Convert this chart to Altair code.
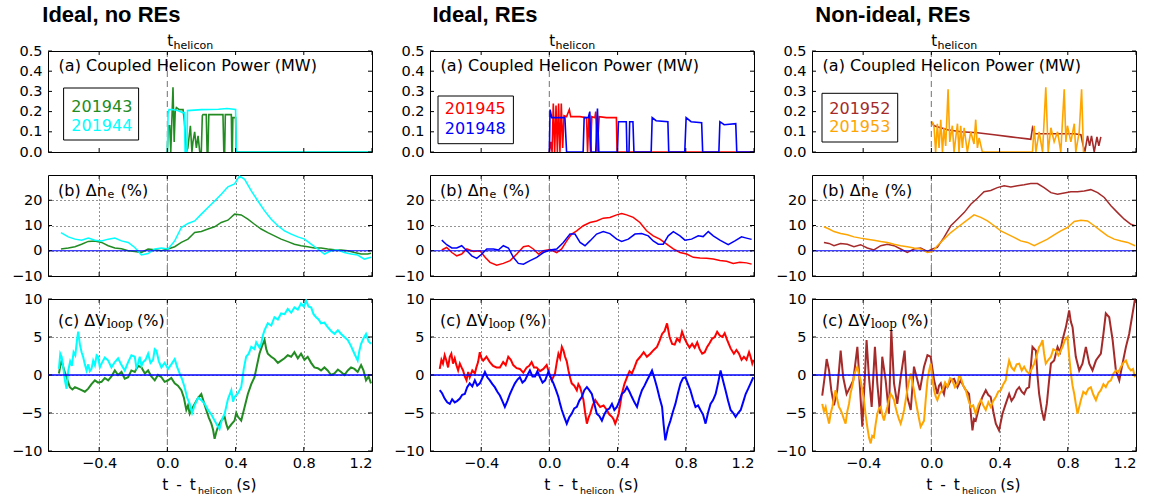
import altair as alt
import pandas as pd

# ------------------------------------------------------------------ data
COL_TITLES = ["Ideal, no REs", "Ideal, REs", "Non-ideal, REs"]
SHOTS = [["201943", "201944"], ["201945", "201948"], ["201952", "201953"]]
COLORS = [["#228B22", "#00FFFF"], ["#FF0000", "#0000FF"], ["#A52A2A", "#FFA500"]]

XTICKS = [-0.4, 0.0, 0.4, 0.8, 1.2]
YTICKS_P = [0.0, 0.1, 0.2, 0.3, 0.4, 0.5]
YTICKS_N = [-10, 0, 10, 20]
YTICKS_V = [-10, -5, 0, 5, 10]

# (a) coupled helicon power (MW)
P_201943 = [(0.0, 0.0), (0.005, 0.13), (0.014, 0.13), (0.020, 0.0), (0.026, 0.15), (0.033, 0.32),
            (0.040, 0.05), (0.046, 0.20), (0.053, 0.22), (0.070, 0.21), (0.092, 0.21), (0.100, 0.15),
            (0.111, 0.0), (0.120, 0.02), (0.135, 0.13), (0.144, 0.0), (0.150, 0.05), (0.160, 0.10),
            (0.170, 0.02), (0.180, 0.08), (0.190, 0.0), (0.199, 0.0), (0.205, 0.18), (0.209, 0.185),
            (0.228, 0.185), (0.233, 0.0), (0.238, 0.0), (0.243, 0.185), (0.248, 0.185), (0.326, 0.185),
            (0.331, 0.0), (0.336, 0.0), (0.340, 0.185), (0.345, 0.185), (0.375, 0.185), (0.378, 0.0),
            (0.381, 0.0), (0.384, 0.17), (0.400, 0.17), (0.404, 0.0), (0.41, 0.0), (1.2, 0.0)]
P_201944 = [(0.0, 0.0), (0.004, 0.19), (0.010, 0.21), (0.030, 0.21), (0.060, 0.205), (0.090, 0.195),
            (0.100, 0.195), (0.104, 0.0), (0.114, 0.0), (0.118, 0.205), (0.20, 0.21), (0.30, 0.212),
            (0.35, 0.215), (0.400, 0.21), (0.404, 0.0), (0.41, 0.0), (1.2, 0.0)]
P_201945 = [(0.0, 0.0), (0.008, 0.05), (0.016, 0.0), (0.023, 0.24), (0.031, 0.0), (0.039, 0.23),
            (0.047, 0.0), (0.054, 0.24), (0.062, 0.0), (0.070, 0.24), (0.078, 0.02), (0.086, 0.18),
            (0.101, 0.175), (0.117, 0.21), (0.125, 0.175), (0.179, 0.175), (0.218, 0.17), (0.224, 0.0),
            (0.232, 0.175), (0.241, 0.0), (0.249, 0.175), (0.267, 0.17), (0.272, 0.20), (0.280, 0.0),
            (0.292, 0.175), (0.335, 0.17), (0.393, 0.17), (0.397, 0.0), (1.2, 0.0)]
P_201948 = [(0.0, 0.0), (0.004, 0.21), (0.014, 0.17), (0.091, 0.17), (0.101, 0.0), (0.198, 0.0),
            (0.204, 0.17), (0.228, 0.17), (0.237, 0.20), (0.245, 0.0), (0.272, 0.0), (0.282, 0.215),
            (0.290, 0.0), (0.399, 0.0), (0.405, 0.15), (0.451, 0.15), (0.455, 0.0), (0.467, 0.0),
            (0.471, 0.15), (0.490, 0.15), (0.496, 0.0), (0.597, 0.0), (0.603, 0.17), (0.626, 0.155),
            (0.695, 0.15), (0.700, 0.0), (0.794, 0.0), (0.802, 0.17), (0.831, 0.15), (0.893, 0.145),
            (0.899, 0.0), (0.994, 0.0), (1.000, 0.15), (1.025, 0.135), (1.093, 0.14), (1.099, 0.0),
            (1.2, 0.0)]
P_201952 = [(0.0, 0.15), (0.016, 0.13), (0.094, 0.11), (0.172, 0.10), (0.270, 0.095), (0.368, 0.085),
            (0.466, 0.075), (0.564, 0.065), (0.583, 0.063), (0.593, 0.12), (0.607, 0.09), (0.681, 0.09),
            (0.759, 0.09), (0.838, 0.09), (0.877, 0.085), (0.888, 0.04), (0.900, 0.0), (0.916, 0.08),
            (0.928, 0.03), (0.939, 0.08), (0.955, 0.0), (0.971, 0.075), (0.982, 0.03), (0.994, 0.075)]
P_201953 = [(0.006, 0.15), (0.016, 0.12), (0.025, 0.0), (0.035, 0.14), (0.045, 0.02), (0.055, 0.16),
            (0.065, 0.0), (0.074, 0.12), (0.084, 0.03), (0.098, 0.31), (0.108, 0.05), (0.123, 0.13),
            (0.133, 0.0), (0.153, 0.14), (0.162, 0.0), (0.172, 0.13), (0.182, 0.02), (0.192, 0.12),
            (0.211, 0.0), (0.231, 0.10), (0.250, 0.04), (0.260, 0.16), (0.270, 0.02), (0.280, 0.07),
            (0.299, 0.0), (0.593, 0.0), (0.603, 0.13), (0.613, 0.0), (0.632, 0.10), (0.652, 0.0),
            (0.671, 0.32), (0.685, 0.0), (0.701, 0.12), (0.720, 0.05), (0.740, 0.10), (0.759, 0.0),
            (0.779, 0.31), (0.789, 0.05), (0.798, 0.13), (0.818, 0.05), (0.838, 0.14), (0.847, 0.0),
            (0.867, 0.10), (0.881, 0.31), (0.892, 0.0), (0.906, 0.0)]

# (b) density change (%)
N_201943 = [(-0.624, 0.7), (-0.581, 1.1), (-0.542, 1.6), (-0.503, 2.6), (-0.464, 3.7), (-0.425, 3.9),
            (-0.386, 3.3), (-0.347, 2.0), (-0.308, 1.1), (-0.269, 0.8), (-0.230, 0.0), (-0.191, -0.3),
            (-0.152, -0.7), (-0.113, 0.7), (-0.074, 0.4), (-0.035, 0.0), (0.004, 0.7), (0.043, 1.6),
            (0.082, 3.3), (0.121, 4.6), (0.160, 7.2), (0.199, 7.6), (0.238, 8.6), (0.277, 9.5),
            (0.316, 11.2), (0.355, 12.1), (0.394, 14.5), (0.433, 14.2), (0.472, 12.5), (0.511, 10.5),
            (0.550, 8.6), (0.589, 7.2), (0.628, 5.9), (0.667, 4.6), (0.706, 3.6), (0.745, 2.6),
            (0.784, 2.0), (0.823, 1.6), (0.862, 1.1), (0.901, 1.1), (0.940, 0.7), (0.980, 0.4),
            (1.019, 0.3), (1.058, 0.0), (1.097, -0.7), (1.136, -1.3), (1.175, -1.3), (1.194, -1.0)]
N_201944 = [(-0.624, 7.2), (-0.581, 5.5), (-0.542, 4.6), (-0.503, 4.2), (-0.464, 5.0), (-0.425, 4.2),
            (-0.386, 3.9), (-0.347, 4.6), (-0.308, 5.0), (-0.269, 3.9), (-0.230, 3.3), (-0.191, 1.3),
            (-0.152, -1.7), (-0.113, -1.1), (-0.074, 0.7), (-0.035, 1.1), (0.004, 0.7), (0.043, 3.9),
            (0.082, 9.2), (0.121, 10.8), (0.160, 11.8), (0.199, 14.5), (0.238, 17.1), (0.277, 19.7),
            (0.316, 22.4), (0.355, 25.3), (0.394, 26.5), (0.423, 29.6), (0.453, 28.3), (0.492, 23.7),
            (0.531, 19.7), (0.570, 15.8), (0.609, 12.5), (0.648, 9.9), (0.687, 7.9), (0.726, 6.6),
            (0.765, 5.5), (0.804, 4.6), (0.843, 2.6), (0.882, 0.7), (0.921, -1.3), (0.960, 0.0),
            (0.999, 0.3), (1.038, -0.7), (1.077, -1.3), (1.116, -1.7), (1.155, -3.3), (1.194, -2.6)]
N_201945 = [(-0.631, 0.3), (-0.602, 1.3), (-0.572, -0.7), (-0.543, -2.0), (-0.514, -1.3), (-0.484, 0.7),
            (-0.445, -0.3), (-0.406, 0.0), (-0.377, -2.6), (-0.348, -4.6), (-0.309, -5.7), (-0.270, -5.0),
            (-0.230, -3.9), (-0.191, -1.3), (-0.152, 1.6), (-0.123, 2.0), (-0.094, 0.7), (-0.064, -1.3),
            (-0.035, 0.0), (0.004, 0.5), (0.043, -0.7), (0.072, 0.7), (0.102, 3.9), (0.131, 6.6),
            (0.160, 7.9), (0.199, 9.9), (0.238, 11.2), (0.277, 11.8), (0.316, 12.9), (0.355, 13.2),
            (0.395, 14.2), (0.424, 14.7), (0.453, 14.2), (0.492, 13.2), (0.531, 11.2), (0.570, 7.9),
            (0.609, 5.9), (0.648, 4.6), (0.688, 2.6), (0.727, 0.7), (0.766, -0.7), (0.805, -1.3),
            (0.844, -2.6), (0.883, -2.9), (0.922, -3.0), (0.961, -3.3), (1.000, -3.9), (1.039, -4.2),
            (1.078, -5.0), (1.117, -4.6), (1.156, -4.8), (1.186, -5.3)]
N_201948 = [(-0.631, 4.2), (-0.602, 2.4), (-0.572, 1.1), (-0.543, 1.1), (-0.514, 2.0), (-0.484, 0.0),
            (-0.455, -2.0), (-0.426, -3.0), (-0.396, -1.3), (-0.367, 0.7), (-0.328, 0.7), (-0.299, 0.3),
            (-0.270, 2.0), (-0.240, 1.1), (-0.211, -2.6), (-0.182, -5.0), (-0.152, -5.3), (-0.113, -3.9),
            (-0.074, -2.6), (-0.035, -0.7), (0.004, 0.3), (0.043, 0.7), (0.082, 3.3), (0.121, 6.6),
            (0.150, 6.6), (0.180, 3.3), (0.209, 2.0), (0.238, 3.9), (0.277, 6.6), (0.316, 7.6),
            (0.355, 6.8), (0.395, 4.6), (0.424, 3.7), (0.463, 4.6), (0.502, 6.6), (0.541, 6.8),
            (0.580, 5.9), (0.609, 3.9), (0.639, 2.6), (0.668, 2.6), (0.697, 5.9), (0.727, 7.6),
            (0.766, 5.9), (0.795, 4.2), (0.834, 4.6), (0.873, 5.9), (0.902, 5.6), (0.932, 7.6),
            (0.961, 5.9), (1.000, 4.2), (1.049, 2.4), (1.088, 3.9), (1.127, 5.5), (1.156, 5.0),
            (1.186, 4.5)]
N_201952 = [(-0.630, 3.3), (-0.600, 2.9), (-0.571, 2.0), (-0.532, 2.9), (-0.493, 2.6), (-0.454, 1.6),
            (-0.415, 2.4), (-0.376, 1.1), (-0.337, 0.3), (-0.297, 2.0), (-0.258, 2.6), (-0.219, 2.0),
            (-0.180, 0.7), (-0.141, -0.7), (-0.102, 0.7), (-0.063, 1.1), (-0.023, -0.3), (0.006, 0.7),
            (0.035, 1.3), (0.074, 5.3), (0.114, 9.9), (0.153, 12.5), (0.192, 15.1), (0.231, 18.4),
            (0.270, 20.8), (0.309, 23.4), (0.348, 23.9), (0.387, 25.0), (0.427, 25.7), (0.466, 25.3),
            (0.505, 25.7), (0.544, 26.1), (0.583, 26.6), (0.622, 26.6), (0.661, 25.0), (0.701, 23.0),
            (0.740, 22.4), (0.779, 22.9), (0.818, 23.4), (0.857, 23.4), (0.896, 23.7), (0.935, 24.2),
            (0.975, 23.0), (1.014, 21.1), (1.053, 17.8), (1.092, 15.1), (1.131, 12.5), (1.170, 10.5),
            (1.194, 9.9)]
N_201953 = [(-0.630, 9.5), (-0.600, 8.6), (-0.571, 7.6), (-0.532, 6.8), (-0.493, 6.3), (-0.454, 5.5),
            (-0.415, 5.0), (-0.376, 4.6), (-0.337, 4.2), (-0.297, 3.7), (-0.258, 3.3), (-0.219, 2.6),
            (-0.180, 2.0), (-0.141, 1.6), (-0.102, 1.1), (-0.063, 0.7), (-0.023, -0.7), (0.006, -0.3),
            (0.035, 2.0), (0.074, 4.6), (0.114, 7.2), (0.153, 9.2), (0.192, 11.2), (0.231, 13.2),
            (0.250, 14.2), (0.290, 13.2), (0.329, 11.8), (0.368, 9.9), (0.407, 7.9), (0.446, 6.6),
            (0.485, 5.3), (0.524, 3.9), (0.564, 3.3), (0.603, 2.0), (0.642, 3.3), (0.681, 4.6),
            (0.720, 6.3), (0.759, 7.9), (0.798, 9.2), (0.838, 11.6), (0.877, 12.1), (0.916, 11.8),
            (0.955, 9.9), (0.994, 7.9), (1.033, 5.9), (1.072, 4.6), (1.112, 3.9), (1.151, 3.3),
            (1.194, 2.0)]

# (c) loop voltage change (%)
V_201943 = [(-0.636, 0.2), (-0.628, 1.2), (-0.620, 1.9), (-0.605, 0.6), (-0.591, -0.3), (-0.581, -1.0),
            (-0.572, -1.6), (-0.557, -1.9), (-0.542, -1.6), (-0.522, -1.8), (-0.503, -2.0), (-0.484, -2.2),
            (-0.464, -1.8), (-0.445, -1.2), (-0.425, -0.7), (-0.406, -1.0), (-0.386, -0.9), (-0.367, -0.4),
            (-0.347, -0.7), (-0.328, -0.2), (-0.308, 0.6), (-0.289, 0.0), (-0.269, 0.4), (-0.250, -0.5),
            (-0.230, -0.3), (-0.211, 0.6), (-0.191, 0.4), (-0.172, 1.2), (-0.152, 1.0), (-0.132, 0.2),
            (-0.113, 0.6), (-0.094, -0.2), (-0.074, -0.7), (-0.055, 0.0), (-0.035, -0.3), (-0.016, -0.9),
            (0.004, -0.7), (0.023, -0.4), (0.043, -1.1), (0.062, -1.4), (0.082, -2.0), (0.097, -3.0),
            (0.111, -4.6), (0.121, -4.0), (0.131, -5.1), (0.145, -4.4), (0.160, -3.8), (0.180, -3.0),
            (0.199, -2.5), (0.214, -3.6), (0.228, -4.6), (0.243, -5.6), (0.258, -6.4), (0.268, -7.2),
            (0.277, -8.4), (0.287, -7.5), (0.297, -6.8), (0.316, -6.0), (0.336, -5.5), (0.345, -6.4),
            (0.355, -7.1), (0.375, -6.5), (0.394, -6.0), (0.404, -5.0), (0.414, -5.5), (0.433, -6.0),
            (0.453, -4.2), (0.472, -2.5), (0.492, -1.2), (0.511, -0.3), (0.525, 1.2), (0.540, 2.8),
            (0.555, 3.8), (0.570, 4.6), (0.580, 3.4), (0.589, 2.8), (0.609, 2.4), (0.628, 2.1),
            (0.648, 1.6), (0.667, 1.9), (0.687, 2.2), (0.706, 2.6), (0.726, 2.4), (0.745, 3.0),
            (0.765, 2.2), (0.784, 2.8), (0.804, 2.0), (0.823, 2.4), (0.843, 1.6), (0.862, 1.0),
            (0.882, 0.9), (0.901, 0.6), (0.921, 1.0), (0.940, 0.6), (0.960, 0.0), (0.980, 0.2),
            (1.000, 0.7), (1.019, 0.4), (1.038, 0.0), (1.058, 0.6), (1.077, 1.0), (1.097, 0.8),
            (1.116, 0.4), (1.136, 1.3), (1.150, 0.6), (1.165, -0.7), (1.180, -0.2), (1.194, -1.1)]
V_201944 = [(-0.636, 0.8), (-0.628, 2.8), (-0.620, 2.4), (-0.610, 0.9), (-0.601, -0.7), (-0.591, -1.8),
            (-0.581, 0.6), (-0.570, 1.8), (-0.560, 1.2), (-0.550, 3.0), (-0.540, 2.6), (-0.530, 4.6),
            (-0.523, 5.7), (-0.513, 4.0), (-0.503, 3.0), (-0.494, 2.4), (-0.484, 1.4), (-0.474, 0.6),
            (-0.464, 1.4), (-0.455, 0.5), (-0.445, 0.8), (-0.435, 1.9), (-0.425, 1.3), (-0.415, 2.6),
            (-0.406, 2.4), (-0.396, 1.0), (-0.386, 1.5), (-0.367, 2.3), (-0.347, 1.9), (-0.328, 1.0),
            (-0.308, 1.7), (-0.289, 2.2), (-0.269, 1.3), (-0.250, 0.6), (-0.230, 1.7), (-0.211, 2.6),
            (-0.191, 2.4), (-0.182, 1.0), (-0.172, 1.5), (-0.162, 2.4), (-0.152, 1.2), (-0.142, 1.7),
            (-0.128, 2.0), (-0.113, 2.8), (-0.099, 1.6), (-0.084, 2.0), (-0.074, 3.4), (-0.064, 3.2),
            (-0.050, 1.8), (-0.035, 1.0), (-0.016, 1.6), (0.004, 0.8), (0.023, 1.4), (0.043, 2.1),
            (0.058, 1.0), (0.072, 0.2), (0.087, -0.6), (0.101, -1.6), (0.116, -3.0), (0.131, -3.8),
            (0.145, -5.0), (0.160, -4.0), (0.180, -3.0), (0.199, -3.3), (0.219, -3.8), (0.238, -4.6),
            (0.258, -5.2), (0.277, -6.0), (0.292, -6.6), (0.306, -7.1), (0.321, -5.8), (0.336, -5.1),
            (0.355, -3.2), (0.375, -2.0), (0.385, -3.5), (0.394, -2.9), (0.414, -2.4), (0.433, -1.6),
            (0.448, 0.8), (0.462, 2.4), (0.477, 2.8), (0.492, 3.7), (0.511, 3.4), (0.521, 4.3),
            (0.540, 3.6), (0.550, 4.1), (0.560, 5.2), (0.570, 5.9), (0.589, 6.8), (0.609, 6.5),
            (0.628, 7.6), (0.648, 7.3), (0.667, 8.1), (0.687, 8.0), (0.706, 8.7), (0.726, 8.2),
            (0.745, 8.9), (0.765, 8.6), (0.784, 9.4), (0.800, 9.0), (0.814, 9.8), (0.828, 9.0),
            (0.843, 8.9), (0.857, 8.0), (0.872, 7.6), (0.887, 7.3), (0.901, 6.8), (0.921, 6.9),
            (0.940, 6.3), (0.960, 5.8), (0.980, 5.4), (1.000, 5.9), (1.019, 5.4), (1.038, 5.0),
            (1.058, 4.6), (1.077, 3.8), (1.097, 2.8), (1.116, 1.9), (1.126, 3.2), (1.136, 4.1),
            (1.150, 4.8), (1.165, 5.4), (1.180, 4.4), (1.194, 4.1)]
V_201945 = [(-0.643, 0.8), (-0.633, 2.0), (-0.624, 1.5), (-0.614, 2.6), (-0.604, 1.9), (-0.594, 1.0),
            (-0.584, 2.4), (-0.575, 2.8), (-0.565, 1.5), (-0.555, 2.2), (-0.545, 1.3), (-0.535, 0.6),
            (-0.525, 1.5), (-0.515, 1.0), (-0.506, 0.6), (-0.496, -0.2), (-0.486, -0.7), (-0.476, 0.4),
            (-0.467, -0.3), (-0.452, 0.6), (-0.437, 0.2), (-0.428, 1.0), (-0.418, 1.7), (-0.408, 3.0),
            (-0.398, 2.2), (-0.388, 1.9), (-0.369, 2.4), (-0.349, 1.7), (-0.330, 1.2), (-0.310, 1.0),
            (-0.290, 1.0), (-0.271, 1.7), (-0.256, 1.3), (-0.241, 2.4), (-0.226, 2.0), (-0.212, 1.3),
            (-0.192, 0.9), (-0.173, 0.8), (-0.153, 0.3), (-0.133, 1.0), (-0.118, 1.2), (-0.104, 1.7),
            (-0.090, 1.0), (-0.075, 1.0), (-0.055, 0.5), (-0.035, 0.8), (-0.016, 1.3), (0.000, 0.2),
            (0.014, -0.7), (0.033, 0.2), (0.043, 1.6), (0.053, 2.8), (0.063, 2.2), (0.073, 3.7),
            (0.083, 3.2), (0.092, 2.4), (0.102, 1.8), (0.112, 0.6), (0.122, -0.4), (0.131, -1.1),
            (0.146, -1.4), (0.161, -2.0), (0.170, -1.2), (0.180, -1.6), (0.190, -2.4), (0.200, -3.3),
            (0.210, -5.0), (0.220, -6.4), (0.230, -5.6), (0.239, -5.1), (0.254, -4.0), (0.269, -3.3),
            (0.284, -3.8), (0.298, -4.2), (0.318, -4.0), (0.337, -4.6), (0.352, -5.2), (0.367, -5.5),
            (0.376, -5.8), (0.386, -6.4), (0.396, -5.8), (0.406, -5.1), (0.416, -3.8), (0.425, -2.5),
            (0.440, -1.2), (0.455, -0.3), (0.470, 0.5), (0.484, 0.2), (0.499, 1.0), (0.514, 1.9),
            (0.533, 2.4), (0.553, 3.0), (0.572, 2.4), (0.592, 2.8), (0.612, 3.3), (0.631, 3.7),
            (0.646, 4.5), (0.661, 5.4), (0.676, 5.8), (0.690, 6.8), (0.705, 5.0), (0.720, 4.1),
            (0.735, 4.0), (0.749, 4.8), (0.764, 4.4), (0.778, 5.7), (0.793, 4.8), (0.808, 4.1),
            (0.822, 3.6), (0.837, 4.1), (0.852, 3.6), (0.867, 4.3), (0.881, 3.4), (0.896, 2.8),
            (0.911, 3.0), (0.925, 3.7), (0.940, 4.2), (0.955, 4.8), (0.970, 5.0), (0.984, 5.7),
            (0.999, 5.2), (1.014, 5.0), (1.028, 5.5), (1.043, 4.6), (1.063, 3.5), (1.082, 2.8),
            (1.097, 3.3), (1.112, 2.8), (1.127, 2.0), (1.141, 2.4), (1.156, 2.0), (1.171, 3.0),
            (1.180, 2.4), (1.190, 1.5), (1.198, 2.0)]
V_201948 = [(-0.643, -2.0), (-0.629, -2.4), (-0.614, -3.1), (-0.599, -3.6), (-0.584, -3.8), (-0.570, -3.2),
            (-0.555, -3.6), (-0.540, -3.4), (-0.525, -3.1), (-0.511, -2.6), (-0.496, -2.5), (-0.482, -1.6),
            (-0.467, -1.1), (-0.452, -1.5), (-0.437, -0.7), (-0.423, -1.4), (-0.408, -1.1), (-0.393, -0.4),
            (-0.378, 0.4), (-0.364, -0.3), (-0.349, -0.7), (-0.334, -1.2), (-0.320, -1.6), (-0.305, -2.2),
            (-0.290, -2.7), (-0.276, -3.4), (-0.261, -4.2), (-0.246, -3.4), (-0.231, -2.5), (-0.217, -1.8),
            (-0.202, -1.1), (-0.187, -0.6), (-0.173, -0.3), (-0.158, -1.0), (-0.143, -0.7), (-0.128, 0.0),
            (-0.114, 0.6), (-0.099, -0.2), (-0.084, -0.2), (-0.070, 0.5), (-0.055, -0.3), (-0.040, -1.0),
            (-0.025, -0.7), (-0.006, 0.4), (0.009, -0.4), (0.024, -1.1), (0.039, -2.0), (0.053, -2.9),
            (0.063, -3.8), (0.073, -4.6), (0.087, -5.5), (0.102, -6.4), (0.116, -5.6), (0.131, -5.1),
            (0.146, -4.4), (0.161, -4.2), (0.175, -3.4), (0.190, -2.9), (0.205, -2.0), (0.220, -1.6),
            (0.234, -2.0), (0.249, -2.5), (0.264, -3.8), (0.278, -5.1), (0.293, -5.4), (0.308, -6.0),
            (0.322, -5.2), (0.337, -4.6), (0.352, -4.4), (0.367, -3.8), (0.381, -4.6), (0.396, -4.2),
            (0.411, -3.4), (0.425, -2.5), (0.440, -2.2), (0.455, -1.6), (0.470, -2.2), (0.484, -2.9),
            (0.499, -3.6), (0.514, -4.2), (0.528, -3.0), (0.543, -2.0), (0.558, -1.4), (0.573, -0.7),
            (0.587, -0.1), (0.602, 0.6), (0.617, -0.5), (0.631, -1.6), (0.646, -3.0), (0.661, -4.2),
            (0.670, -6.5), (0.680, -8.6), (0.695, -7.0), (0.710, -6.0), (0.725, -4.8), (0.739, -3.8),
            (0.754, -2.4), (0.769, -1.1), (0.784, -0.4), (0.798, -0.3), (0.813, -1.2), (0.827, -2.0),
            (0.842, -3.2), (0.857, -4.2), (0.872, -4.0), (0.886, -4.6), (0.901, -5.2), (0.916, -6.4),
            (0.930, -5.0), (0.945, -3.8), (0.960, -3.3), (0.975, -2.5), (0.990, -1.0), (1.004, 0.6),
            (1.019, -0.8), (1.033, -2.0), (1.048, -3.4), (1.063, -4.6), (1.078, -5.0), (1.092, -5.5),
            (1.107, -5.0), (1.122, -4.6), (1.136, -3.6), (1.151, -2.5), (1.166, -1.8), (1.180, -1.1),
            (1.196, -0.3)]
V_201952 = [(-0.640, -2.7), (-0.626, -0.3), (-0.614, 2.1), (-0.600, 0.6), (-0.587, -2.0), (-0.571, -4.0),
            (-0.552, -2.0), (-0.542, 0.5), (-0.532, 3.2), (-0.517, -0.3), (-0.497, -2.5), (-0.477, -1.6),
            (-0.458, -0.7), (-0.446, 1.5), (-0.434, 3.7), (-0.419, -1.6), (-0.405, -6.8), (-0.391, -0.7),
            (-0.380, 4.6), (-0.366, -0.3), (-0.350, -4.2), (-0.331, 3.7), (-0.317, -1.1), (-0.301, -5.1),
            (-0.288, 2.4), (-0.268, -0.7), (-0.249, -5.1), (-0.235, 5.9), (-0.219, -1.1), (-0.200, -3.8),
            (-0.180, -0.3), (-0.157, 3.2), (-0.141, -2.9), (-0.121, -4.6), (-0.102, 1.1), (-0.082, -0.7),
            (-0.067, -2.0), (-0.043, 1.1), (-0.023, 2.6), (-0.004, 2.4), (0.016, -0.7), (0.035, -2.5),
            (0.045, -1.4), (0.055, -1.1), (0.065, -2.0), (0.074, -2.5), (0.084, -1.2), (0.094, -1.6),
            (0.114, -0.7), (0.133, -0.5), (0.153, -1.6), (0.172, -0.7), (0.187, -1.4), (0.202, -2.0),
            (0.221, -2.5), (0.231, -5.0), (0.241, -7.3), (0.250, -5.8), (0.260, -6.0), (0.280, -4.2),
            (0.299, -2.9), (0.319, -2.0), (0.333, -2.6), (0.348, -2.9), (0.363, -4.8), (0.378, -6.4),
            (0.397, -7.3), (0.417, -5.1), (0.436, -3.8), (0.456, -2.5), (0.470, -3.4), (0.485, -2.9),
            (0.500, -2.0), (0.515, -1.6), (0.530, -2.2), (0.544, -2.5), (0.558, -1.8), (0.573, -1.6),
            (0.593, 3.7), (0.613, 3.2), (0.622, 0.0), (0.632, -2.5), (0.647, -4.6), (0.661, -6.0),
            (0.677, -3.8), (0.690, -0.8), (0.701, 1.5), (0.720, 1.9), (0.740, 3.7), (0.755, 3.0),
            (0.769, 4.6), (0.789, 6.3), (0.808, 8.5), (0.818, 7.0), (0.828, 6.3), (0.838, 4.2),
            (0.847, 2.4), (0.867, 0.6), (0.886, 1.5), (0.906, 3.7), (0.926, 1.5), (0.945, 0.6),
            (0.965, 1.9), (0.980, 2.4), (0.994, 2.8), (1.009, 5.4), (1.023, 8.1), (1.043, 7.6),
            (1.063, 4.6), (1.082, 0.6), (1.102, -0.7), (1.121, 1.5), (1.141, 3.7), (1.160, 5.4),
            (1.180, 8.1), (1.194, 10.0)]
V_201953 = [(-0.640, -3.8), (-0.630, -4.8), (-0.620, -4.2), (-0.610, -5.4), (-0.600, -6.4), (-0.590, -5.0),
            (-0.581, -4.2), (-0.571, -3.0), (-0.562, -2.0), (-0.552, -3.2), (-0.542, -4.2), (-0.532, -4.6),
            (-0.523, -5.1), (-0.513, -5.8), (-0.503, -6.4), (-0.493, -4.8), (-0.483, -3.8), (-0.474, -2.4),
            (-0.465, -1.6), (-0.450, 0.2), (-0.434, 1.1), (-0.424, 0.0), (-0.415, -0.7), (-0.405, -2.0),
            (-0.395, -3.3), (-0.386, -5.2), (-0.376, -6.8), (-0.366, -8.2), (-0.356, -9.0), (-0.347, -8.0),
            (-0.337, -8.2), (-0.327, -6.5), (-0.317, -5.1), (-0.307, -4.4), (-0.297, -4.2), (-0.288, -5.2),
            (-0.278, -6.0), (-0.268, -5.0), (-0.258, -4.2), (-0.249, -3.2), (-0.239, -2.5), (-0.229, -2.8),
            (-0.219, -3.3), (-0.210, -4.2), (-0.200, -5.1), (-0.190, -5.8), (-0.180, -6.4), (-0.170, -5.6),
            (-0.160, -4.6), (-0.150, -3.2), (-0.141, -2.0), (-0.131, -0.8), (-0.121, 0.2), (-0.111, -1.0),
            (-0.102, -2.0), (-0.092, -3.4), (-0.082, -4.6), (-0.072, -5.8), (-0.063, -6.8), (-0.053, -6.4),
            (-0.043, -6.0), (-0.033, -3.2), (-0.023, -0.7), (-0.013, 0.6), (-0.004, 1.5), (0.006, -0.4),
            (0.016, -2.0), (0.025, -2.8), (0.035, -3.3), (0.050, -2.4), (0.065, -2.0), (0.080, -1.0),
            (0.094, -1.6), (0.109, -0.4), (0.123, -0.7), (0.138, -1.6), (0.153, -1.1), (0.162, -0.2),
            (0.172, -0.3), (0.187, -1.4), (0.202, -2.0), (0.216, -3.2), (0.231, -4.2), (0.245, -4.0),
            (0.260, -5.1), (0.275, -4.0), (0.290, -3.3), (0.304, -4.0), (0.319, -4.6), (0.334, -3.6),
            (0.348, -4.2), (0.363, -3.4), (0.378, -2.9), (0.392, -2.2), (0.407, -2.0), (0.422, -1.2),
            (0.436, -0.7), (0.446, 0.8), (0.456, 1.9), (0.470, 1.0), (0.485, 0.6), (0.500, 1.4),
            (0.515, 1.5), (0.530, 0.6), (0.544, 1.1), (0.558, 0.5), (0.573, 0.2), (0.588, 0.8),
            (0.603, 1.5), (0.618, 2.6), (0.632, 3.7), (0.642, 4.0), (0.652, 4.6), (0.661, 2.8),
            (0.671, 1.5), (0.686, 2.0), (0.701, 2.4), (0.715, 3.4), (0.730, 3.2), (0.745, 2.6),
            (0.759, 3.2), (0.771, 3.8), (0.783, 4.6), (0.798, 5.0), (0.808, 2.5), (0.818, 0.2),
            (0.828, -1.4), (0.838, -2.5), (0.847, -3.8), (0.857, -5.1), (0.867, -4.2), (0.877, -3.3),
            (0.891, -2.2), (0.906, -2.5), (0.921, -1.8), (0.935, -1.6), (0.950, -2.6), (0.965, -3.3),
            (0.980, -2.4), (0.994, -2.0), (1.009, -1.2), (1.023, -1.6), (1.038, -0.9), (1.053, -0.7),
            (1.068, 0.2), (1.082, 0.6), (1.097, 0.4), (1.112, 1.1), (1.126, 1.6), (1.141, 1.9),
            (1.156, 1.0), (1.170, 0.6), (1.182, 0.8), (1.194, -0.3)]

POWER = [[P_201943, P_201944], [P_201945, P_201948], [P_201952, P_201953]]
DENS = [[N_201943, N_201944], [N_201945, N_201948], [N_201952, N_201953]]
VLOOP = [[V_201943, V_201944], [V_201945, V_201948], [V_201952, V_201953]]

# ------------------------------------------------------------------ layout
W = 324
HS = [101, 101, 152]
XDOM = [-0.7, 1.2]
YDOMS = [[0.0, 0.5], [-10, 30], [-10, 10]]
YTICKS = [YTICKS_P, YTICKS_N, YTICKS_V]
YFMT = [".1f", "d", "d"]
LW = [1.6, 1.5, 2.0]
SANS = "DejaVu Sans"
ONE = pd.DataFrame({"k": [0]})

TITLE_DX = [-5.7, 2.4, 3.3]
LEG_BOX = [(15.6, 90.6, 37, 89), (8, 83.4, 45, 92.7), (10, 85.7, 42.3, 91)]
LEG_TXT = [(23.3, 61, 80), (14.7, 63.3, 82.7), (17.3, 62.7, 81)]


def txt(text, x, y, size, color="black", font=SANS, weight="normal", align="left"):
    return alt.Chart(ONE).mark_text(
        text=text, font=font, fontSize=size, fontWeight=weight, color=color,
        align=align, baseline="alphabetic").encode(x=alt.value(x), y=alt.value(y))


def panel(col, row):
    H = HS[row]
    xscale = alt.Scale(domain=XDOM, nice=False, zero=False)
    yscale = alt.Scale(domain=YDOMS[row], nice=False, zero=False)
    xaxis = alt.Axis(values=XTICKS, format=".1f", labels=(row == 2), grid=(row > 0),
                     title=None, labelPadding=5, ticks=False, domain=False)
    yaxis = alt.Axis(values=YTICKS[row], format=YFMT[row], grid=(row > 0),
                     title=None, labelPadding=6, ticks=False, domain=False)
    X = alt.X("t:Q", scale=xscale, axis=xaxis)
    Y = alt.Y("v:Q", scale=yscale, axis=yaxis)
    layers = []

    # vertical dashed line at t_helicon
    layers.append(alt.Chart(ONE).mark_rule(color="#8a8a8a", strokeDash=[6, 4], strokeWidth=1.2).encode(
        x=alt.XDatum(0.0, type="quantitative", scale=xscale, axis=xaxis)))

    series = [POWER, DENS, VLOOP][row][col]
    for k in range(2):
        df = pd.DataFrame(series[k], columns=["t", "v"])
        layers.append(alt.Chart(df).mark_line(color=COLORS[col][k], strokeWidth=LW[row], clip=True)
                      .encode(x=X, y=Y))

    if row > 0:
        layers.append(alt.Chart(ONE).mark_rule(color="#0000FF", strokeWidth=(1.2 if row == 1 else 2.0),
                                               opacity=(1.0 if row == 1 else 0.75)).encode(
            y=alt.YDatum(0.0, type="quantitative", scale=yscale, axis=yaxis)))

    # inward ticks on all four sides
    xt = pd.DataFrame({"t": XTICKS})
    yt = pd.DataFrame({"v": YTICKS[row]})
    layers.append(alt.Chart(xt).mark_rule(color="black").encode(x=X, y=alt.value(H), y2=alt.value(H - 4)))
    layers.append(alt.Chart(xt).mark_rule(color="black").encode(x=X, y=alt.value(0), y2=alt.value(4)))
    layers.append(alt.Chart(yt).mark_rule(color="black").encode(y=Y, x=alt.value(0), x2=alt.value(4)))
    layers.append(alt.Chart(yt).mark_rule(color="black").encode(y=Y, x=alt.value(W - 4), x2=alt.value(W)))

    # panel labels
    if row == 0:
        layers.append(txt("(a) Coupled Helicon Power (MW)", 10.6, 20, 16))
        # legend box
        bx0, bx1, by0, by1 = LEG_BOX[col]
        layers.append(alt.Chart(ONE).mark_rect(fill="white", stroke="black", strokeWidth=1).encode(
            x=alt.value(bx0), x2=alt.value(bx1), y=alt.value(by0), y2=alt.value(by1)))
        tx, b1, b2 = LEG_TXT[col]
        layers.append(txt(SHOTS[col][0], tx, b1, 16, COLORS[col][0]))
        layers.append(txt(SHOTS[col][1], tx, b2, 16, COLORS[col][1]))
        # t_helicon marker label
        layers.append(alt.Chart(ONE).mark_text(text="t", font=SANS, fontSize=15, align="left",
                                               baseline="alphabetic").encode(
            x=alt.XDatum(0.0, type="quantitative", scale=xscale, axis=xaxis), y=alt.value(-5)))
        layers.append(alt.Chart(ONE).mark_text(text="helicon", font=SANS, fontSize=11, align="left",
                                               baseline="alphabetic", dx=6.2).encode(
            x=alt.XDatum(0.0, type="quantitative", scale=xscale, axis=xaxis), y=alt.value(-2)))
        # column title
        layers.append(txt(COL_TITLES[col], TITLE_DX[col], -29, 22, font="Liberation Sans", weight="bold"))
        if col == 0:
            layers.append(alt.Chart(ONE).mark_rule(color="white", strokeWidth=1).encode(
                x=alt.value(-46.2), x2=alt.value(-45.5), y=alt.value(-49.5), y2=alt.value(-49.5)))
    elif row == 1:
        layers.append(txt("(b) Δn", 10, 21.4, 16))
        layers.append(txt("e", 59.5, 23.4, 11))
        layers.append(txt("(%)", 72.6, 21.4, 16))
    else:
        layers.append(txt("(c) ΔV", 10, 26.7, 16))
        layers.append(txt("loop", 59, 28.6, 12, font="DejaVu Serif"))
        layers.append(txt("(%)", 89, 26.7, 16))
        # x-axis title  t - t_helicon (s)
        layers.append(txt("t", 114.3, H + 39.3, 15.5))
        layers.append(txt("-", 128.3, H + 39.3, 15.5))
        layers.append(txt("t", 141.7, H + 39.3, 15.5))
        layers.append(txt("helicon", 150, H + 43, 9.5))
        layers.append(txt("(s)", 188.3, H + 39.3, 15.5))

    return alt.layer(*layers).properties(width=W, height=H)


panels = [panel(c, r) for r in range(3) for c in range(3)]

chart = alt.concat(*panels, columns=3).properties(
    spacing={"row": 23, "column": 58}, bounds="flush", padding=0,
    background="white",
).configure_axis(
    labelFont=SANS, labelFontSize=14.5, labelColor="black",
    gridColor="black", gridDash=[1, 3], gridOpacity=0.85, gridWidth=1,
).configure_view(stroke="black", strokeWidth=1)

chart.save("out.html", embed_options={"renderer": "svg", "actions": False})
